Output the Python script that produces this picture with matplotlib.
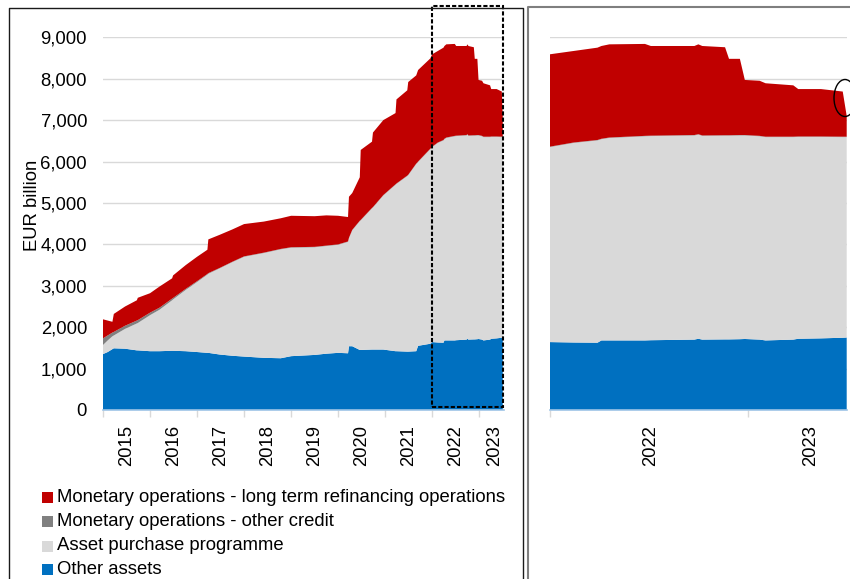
import matplotlib
matplotlib.use("Agg")
import matplotlib.pyplot as plt
from matplotlib.patches import Rectangle, Ellipse
from matplotlib.lines import Line2D
from matplotlib.ticker import FuncFormatter

plt.rcParams['font.family'] = ['Liberation Sans', 'DejaVu Sans']

# ---- data (EUR billion), dates as decimal years ----
dates = [2015.00, 2015.10, 2015.20, 2015.23, 2015.47, 2015.72, 2015.74, 2016.00,
         2016.20, 2016.47, 2016.49, 2016.76, 2017.00, 2017.22, 2017.24, 2017.48,
         2017.75, 2018.00, 2018.42, 2018.78, 2019.00, 2019.50, 2019.75, 2020.00,
         2020.21, 2020.23, 2020.30, 2020.46, 2020.48, 2020.72, 2020.74, 2020.96,
         2021.22, 2021.24, 2021.47, 2021.49, 2021.66, 2021.70, 2021.96, 2021.98,
         2022.00, 2022.12, 2022.24, 2022.26, 2022.30, 2022.48, 2022.51, 2022.73,
         2022.75, 2022.77, 2022.885, 2022.905, 2022.96, 2022.985, 2023.06, 2023.09,
         2023.23, 2023.255, 2023.37, 2023.48, 2023.50]

other_assets = [1350, 1400, 1470, 1490, 1480, 1440, 1440, 1420,
                1420, 1430, 1430, 1420, 1400, 1380, 1380, 1340,
                1310, 1290, 1260, 1250, 1300, 1330, 1360, 1380,
                1370, 1540, 1540, 1450, 1450, 1460, 1460, 1460,
                1420, 1420, 1410, 1410, 1420, 1550, 1600, 1620,
                1640, 1630, 1625, 1680, 1680, 1680, 1685, 1700,
                1720, 1700, 1705, 1705, 1710, 1715, 1700, 1680,
                1700, 1720, 1730, 1745, 1750]

asset_purchase = [220, 280, 310, 310, 480, 650, 660, 870,
                  1000, 1220, 1240, 1480, 1690, 1890, 1910, 2080,
                  2260, 2410, 2530, 2630, 2620, 2600, 2600, 2610,
                  2690, 2610, 2800, 3110, 3130, 3410, 3430, 3720,
                  4020, 4040, 4240, 4260, 4520, 4440, 4700, 4700,
                  4710, 4820, 4885, 4860, 4890, 4930, 4930, 4930,
                  4930, 4920, 4920, 4920, 4920, 4915, 4910, 4910,
                  4890, 4875, 4865, 4845, 4840]

other_credit = [160, 120, 90, 85, 75, 70, 70, 60,
                50, 40, 35, 25, 20, 15, 15, 10,
                10, 10, 10, 10, 10, 10, 10, 10,
                10, 10, 10, 10, 10, 10, 10, 10,
                10, 10, 10, 10, 10, 10, 10, 10,
                10, 10, 10, 10, 10, 10, 10, 10,
                10, 10, 10, 10, 10, 10, 10, 10,
                10, 10, 10, 10, 10]

ltro = [460, 360, 260, 435, 465, 490, 540, 470,
        510, 490, 545, 575, 590, 585, 815, 800,
        780, 780, 750, 740, 760, 740, 730, 690,
        590, 990, 890, 1050, 1690, 1600, 1800, 1810,
        1720, 2030, 2060, 2240, 2130, 2210, 2180, 2210,
        2230, 2210, 2230, 2240, 2250, 2220, 2165, 2150,
        2170, 2160, 2125, 1845, 1840, 1330, 1330, 1290,
        1240, 1145, 1145, 1090, 500]

series_labels = ["Monetary operations - long term refinancing operations",
                 "Monetary operations - other credit",
                 "Asset purchase programme",
                 "Other assets"]
year_labels = ["2015", "2016", "2017", "2018", "2019", "2020", "2021", "2022", "2023"]
year_label_pos = [2015.5, 2016.5, 2017.5, 2018.5, 2019.5, 2020.5, 2021.5, 2022.5, 2023.32]

C_RED = '#C00000'
C_DGRAY = '#808080'
C_LGRAY = '#D9D9D9'
C_BLUE = '#0070C0'
colors = [C_BLUE, C_LGRAY, C_DGRAY, C_RED]
FS = 13.3

W, H = 850, 579
fig = plt.figure(figsize=(W / 100, H / 100), dpi=100)


def fx(px):
    return px / W


def fy(py):
    return 1 - py / H


def style_axes(ax, xmin, xmax, major, lab_pos, labs):
    ax.stackplot(dates, other_assets, asset_purchase, other_credit, ltro,
                 colors=colors, linewidth=0, antialiased=True)
    ax.set_xlim(xmin, xmax)
    ax.set_ylim(0, 9000)
    ax.set_yticks(range(0, 9001, 1000))
    ax.yaxis.grid(True, color='#D9D9D9', linewidth=1)
    ax.set_axisbelow(True)
    for s in ['top', 'left', 'right']:
        ax.spines[s].set_visible(False)
    ax.spines['bottom'].set_color('#9DC3E6')
    ax.spines['bottom'].set_linewidth(1.2)
    ax.set_xticks(major)
    ax.set_xticklabels([''] * len(major))
    ax.tick_params(axis='x', which='major', length=5, color='#D9D9D9', width=1)
    ax.set_xticks(lab_pos, minor=True)
    ax.set_xticklabels(labs, minor=True, rotation=90, fontsize=FS)
    ax.tick_params(axis='x', which='minor', length=0, pad=11)
    ax.tick_params(axis='y', length=0)


ax1 = fig.add_axes([fx(103), fy(410), fx(503.7) - fx(103), (410 - 37.3) / H])
style_axes(ax1, 2015.0, 2023.52, list(range(2015, 2024)), year_label_pos, year_labels)
ax1.yaxis.set_major_formatter(FuncFormatter(lambda v, p: f"{int(v):,}"))
ax1.tick_params(axis='y', labelsize=FS, pad=11.5)
ax1.set_ylabel("EUR billion", fontsize=FS)
ax1.yaxis.set_label_coords((41 - 103) / 400.7, (410 - 205) / 372.7)

ax2 = fig.add_axes([fx(550), fy(410), 296.7 / W, (410 - 37.3) / H])
style_axes(ax2, 2022.0, 2023.5, [2022, 2023], [2022.51, 2023.32], ["2022", "2023"])
ax2.tick_params(axis='y', labelleft=False)

# panel borders
fig.add_artist(Line2D([fx(9), fx(9), fx(523.3), fx(523.3)],
                      [fy(585), fy(8), fy(8), fy(585)],
                      color='#1A1A1A', linewidth=1.0, transform=fig.transFigure))
fig.add_artist(Line2D([fx(528.3), fx(528.3), fx(855)],
                      [fy(585), fy(6.7), fy(6.7)],
                      color='#7F7F7F', linewidth=1.5, transform=fig.transFigure))

# dashed zoom box
fig.add_artist(Rectangle((fx(432.4), fy(407.3)), fx(502.7) - fx(432.4), (407.3 - 6) / H,
                         fill=False, edgecolor='black', linewidth=1.5,
                         linestyle=(0, (2, 1)), transform=fig.transFigure))

# ellipse highlight
fig.add_artist(Ellipse((fx(845), fy(98)), 22 / W, 37 / H, fill=False,
                       edgecolor='black', linewidth=1.0, transform=fig.transFigure))

# legend
leg_rows = [497.5, 521.7, 546.0, 569.3]
leg_colors = [C_RED, C_DGRAY, C_LGRAY, C_BLUE]
for lab, col, row in zip(series_labels, leg_colors, leg_rows):
    fig.add_artist(Rectangle((fx(42.3), fy(row + 5.5)), 11 / W, 11 / H,
                             facecolor=col, edgecolor='none', transform=fig.transFigure))
    fig.text(fx(57.5), fy(row), lab, fontsize=FS, ha='left', va='center')

fig.savefig("out.png", dpi=100)
